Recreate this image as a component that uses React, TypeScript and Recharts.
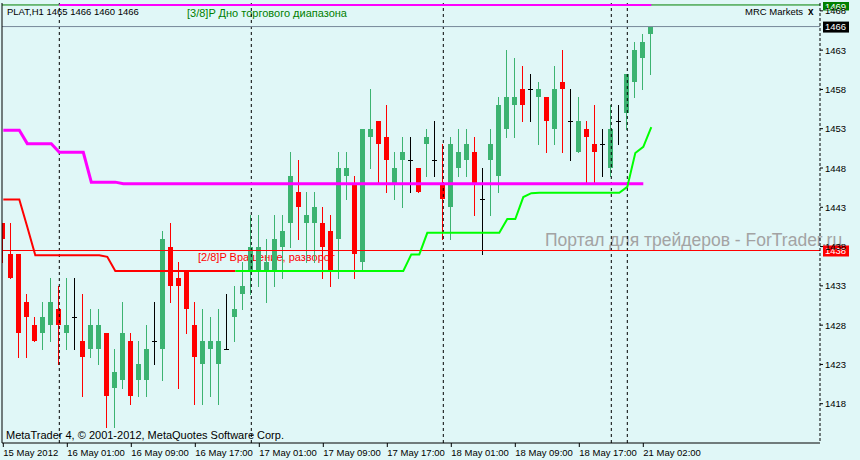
import React from 'react';
import { ComposedChart, Bar, Line, XAxis, YAxis, ReferenceLine } from 'recharts';

const BG = '#E0F7F7';
const FONT = "'Liberation Sans', Arial, sans-serif";

const opens = [
  1441, 1437, 1437, 1431, 1428, 1427, 1428, 1430, 1427, 1429,
  1426, 1425, 1425, 1427, 1420, 1421, 1426, 1421, 1421, 1426,
  1425, 1438, 1434, 1435, 1428, 1423, 1425, 1423, 1425, 1429,
  1432, 1435, 1435, 1435, 1435, 1438, 1441, 1445, 1441, 1441,
  1441, 1440, 1439, 1447, 1446, 1436, 1452, 1454, 1452, 1446,
  1449, 1449, 1448, 1451, 1449, 1446, 1443, 1448, 1449, 1450,
  1444, 1449, 1447, 1453, 1456, 1458, 1458, 1457, 1457, 1453,
  1459, 1454, 1450, 1453, 1451, 1451, 1448, 1454, 1455, 1459,
  1462, 1465,
];
const highs = [
  1441, 1441, 1437, 1432, 1429, 1431, 1434, 1433, 1434, 1434,
  1432, 1430, 1430, 1427, 1425, 1431, 1427, 1426, 1428, 1431,
  1440, 1441, 1436, 1435, 1431, 1430, 1429, 1430, 1432, 1433,
  1436, 1442, 1442, 1439, 1442, 1442, 1450, 1449, 1445, 1445,
  1443, 1442, 1450, 1450, 1447, 1453, 1458, 1454, 1456, 1450,
  1452, 1452, 1448, 1453, 1454, 1451, 1452, 1453, 1453, 1452,
  1448, 1453, 1457, 1463, 1462, 1461, 1460, 1459, 1457, 1461,
  1463, 1458, 1457, 1454, 1456, 1453, 1456, 1456, 1460, 1464,
  1465, 1466,
];
const lows = [
  1436, 1434, 1424, 1424, 1426, 1425, 1426, 1423, 1425, 1425,
  1419, 1424, 1423, 1415, 1415, 1420, 1418, 1419, 1419, 1423,
  1421, 1431, 1420, 1427, 1418, 1418, 1419, 1418, 1425, 1426,
  1430, 1432, 1433, 1431, 1433, 1434, 1438, 1439, 1436, 1436,
  1434, 1433, 1434, 1444, 1434, 1435, 1448, 1446, 1445, 1444,
  1443, 1445, 1445, 1447, 1447, 1439, 1439, 1447, 1447, 1442,
  1437, 1442, 1445, 1452, 1452, 1454, 1454, 1451, 1450, 1451,
  1450, 1449, 1450, 1446, 1446, 1447, 1447, 1451, 1453, 1457,
  1458, 1460,
];
const closes = [
  1439, 1434, 1427, 1429, 1426, 1429, 1431, 1428, 1428, 1429,
  1424, 1428, 1428, 1419, 1422, 1427, 1419, 1423, 1425, 1426,
  1439, 1433, 1433, 1430, 1424, 1426, 1426, 1426, 1425, 1430,
  1433, 1438, 1438, 1436, 1439, 1440, 1447, 1443, 1442, 1443,
  1438, 1435, 1448, 1448, 1437, 1453, 1453, 1451, 1449, 1448,
  1450, 1449, 1445, 1452, 1449, 1444, 1451, 1450, 1451, 1446,
  1444, 1451, 1456, 1457, 1457, 1456, 1458, 1458, 1454, 1458,
  1458, 1454, 1454, 1452, 1450, 1451, 1453, 1454, 1460, 1463,
  1464, 1466,
];

// magenta stepped channel line
const magentaLine = [
  1452.8, 1452.8, 1452.8, 1451.1, 1451.1, 1451.1, 1451.1, 1450.0, 1450.0, 1450.0,
  1450.0, 1446.2, 1446.2, 1446.2, 1446.2, 1446.0, 1446.0, 1446.0, 1446.0, 1446.0,
  1446.0, 1446.0, 1446.0, 1446.0, 1446.0, 1446.0, 1446.0, 1446.0, 1446.0, 1446.0,
  1446.0, 1446.0, 1446.0, 1446.0, 1446.0, 1446.0, 1446.0, 1446.0, 1446.0, 1446.0,
  1446.0, 1446.0, 1446.0, 1446.0, 1446.0, 1446.0, 1446.0, 1446.0, 1446.0, 1446.0,
  1446.0, 1446.0, 1446.0, 1446.0, 1446.0, 1446.0, 1446.0, 1446.0, 1446.0, 1446.0,
  1446.0, 1446.0, 1446.0, 1446.0, 1446.0, 1446.0, 1446.0, 1446.0, 1446.0, 1446.0,
  1446.0, 1446.0, 1446.0, 1446.0, 1446.0, 1446.0, 1446.0, 1446.0, 1446.0, 1446.0,
  1446.0, null,
];
// red stepped channel line (falling part)
const redLine = [
  1444.0, 1444.0, 1444.0, 1440.5, 1436.9, 1436.9, 1436.9, 1436.9, 1436.9, 1436.9,
  1436.9, 1436.9, 1436.9, 1436.7, 1434.9, 1434.9, 1434.9, 1434.9, 1434.9, 1434.9,
  1434.9, 1434.9, 1434.9, 1434.9, 1434.9, 1434.9, 1434.9, 1434.9, 1434.9, 1434.9,
  null, null, null, null, null, null, null, null, null, null,
  null, null, null, null, null, null, null, null, null, null,
  null, null, null, null, null, null, null, null, null, null,
  null, null, null, null, null, null, null, null, null, null,
  null, null, null, null, null, null, null, null, null, null,
  null, null,
];
// lime stepped channel line (rising part)
const limeLine = [
  null, null, null, null, null, null, null, null, null, null,
  null, null, null, null, null, null, null, null, null, null,
  null, null, null, null, null, null, null, null, null, 1434.9,
  1434.9, 1434.9, 1434.9, 1434.9, 1434.9, 1434.9, 1434.9, 1434.9, 1434.9, 1434.9,
  1434.9, 1434.9, 1434.9, 1434.9, 1434.9, 1434.9, 1434.9, 1434.9, 1434.9, 1434.9,
  1434.9, 1437.0, 1437.0, 1439.75, 1439.75, 1439.75, 1439.75, 1439.75, 1439.75, 1439.75,
  1439.75, 1439.75, 1439.75, 1441.5, 1441.5, 1444.3, 1444.8, 1444.85, 1444.85, 1444.85,
  1444.85, 1444.85, 1444.85, 1444.85, 1444.85, 1444.85, 1444.85, 1444.85, 1445.6, 1449.9,
  1450.7, 1453.2,
];

const xTickIdx = [0, 8, 16, 24, 32, 40, 48, 56, 64, 72, 80];
const xTickLabels = [
  '15 May 2012', '16 May 01:00', '16 May 09:00', '16 May 17:00', '17 May 01:00',
  '17 May 09:00', '17 May 17:00', '18 May 01:00', '18 May 09:00', '18 May 17:00', '21 May 02:00',
];
const yTicks = [1418, 1423, 1428, 1433, 1438, 1443, 1448, 1453, 1458, 1463, 1468];
const separators = [7, 31, 55, 76, 78];

const level38 = 1468.75;
const level28 = 1437.5;
const lastPrice = 1466;
const topBandStart = 7;
const topBandEnd = 81;

const data = opens.map((o, i) => ({
  i,
  open: o,
  high: highs[i],
  low: lows[i],
  close: closes[i],
  range: [lows[i], highs[i]],
  mag: magentaLine[i],
  red: redLine[i],
  lime: limeLine[i],
}));

const Candle = (props: any) => {
  const { x, y, width, height, payload } = props;
  if (x == null || y == null || !payload) return null;
  const { open, close, high, low } = payload;
  const top = Math.min(y, y + height);
  const bot = Math.max(y, y + height);
  const span = high - low;
  const yOf = (v: number) => (span === 0 ? top : top + ((high - v) / span) * (bot - top));
  const cx = Math.floor(x + width / 2) + 0.5;
  const color = close > open ? '#3CB371' : close < open ? '#FF0000' : '#000000';
  const bTop = Math.round(yOf(Math.max(open, close)));
  const bBot = Math.round(yOf(Math.min(open, close)));
  return (
    <g shapeRendering="crispEdges">
      <line x1={cx} x2={cx} y1={Math.round(top)} y2={Math.round(bot) + 1} stroke={color} strokeWidth={1} />
      {close === open ? (
        <line x1={cx - 2.5} x2={cx + 2.5} y1={bTop + 0.5} y2={bTop + 0.5} stroke={color} strokeWidth={1} />
      ) : (
        <rect x={cx - 2.5} y={bTop} width={5} height={Math.max(1, bBot - bTop)} fill={color} />
      )}
    </g>
  );
};

const XTick = (props: any) => {
  const { x, y, payload } = props;
  const k = xTickIdx.indexOf(payload.value);
  return (
    <text x={x} y={y + 7} fontSize={9.5} fontFamily={FONT} fill="#000">
      {k >= 0 ? xTickLabels[k] : ''}
    </text>
  );
};

const YTick = (props: any) => {
  const { x, y, payload } = props;
  return (
    <text x={x} y={y + 3.5} fontSize={9.5} fontFamily={FONT} fill="#000">
      {payload.value}
    </text>
  );
};

const PriceBox = (props: any) => {
  const { viewBox, text, bg, top } = props;
  if (!viewBox) return null;
  const bx = viewBox.x + viewBox.width + 3;
  const by = viewBox.y;
  if (top) {
    return (
      <g>
        <defs>
          <clipPath id="topBoxClip">
            <rect x={bx} y={2} width={26} height={9} />
          </clipPath>
        </defs>
        <rect x={bx} y={2} width={26} height={8.5} fill={bg} />
        <text x={bx + 2} y={by + 4.6} fontSize={9.5} fontFamily={FONT} fill="#fff" clipPath="url(#topBoxClip)">
          {text}
        </text>
      </g>
    );
  }
  return (
    <g>
      <rect x={bx} y={by - 5} width={26} height={11} fill={bg} />
      <text x={bx + 2} y={by + 3.8} fontSize={9.5} fontFamily={FONT} fill="#fff">
        {text}
      </text>
    </g>
  );
};

export default function App() {
  return (
    <div style={{ position: 'absolute', left: 0, top: 0, width: 860, height: 460, background: BG, overflow: 'hidden' }}>
      <svg width={860} height={460} style={{ position: 'absolute', left: 0, top: 0 }}>
        <text x={545} y={246} fontSize={17.5} fontFamily={FONT} fill="#A3A3A3">
          Портал для трейдеров - ForTrader.ru
        </text>
        <text x={7} y={15} fontSize={9.5} fontFamily={FONT} fill="#000">
          PLAT,H1 1465 1466 1460 1466
        </text>
        <text x={745} y={15} fontSize={9.5} fontFamily={FONT} fill="#000">
          MRC Markets
        </text>
        <text x={808} y={15} fontSize={10} fontWeight="bold" fontFamily={FONT} fill="#000">
          x
        </text>
        <text x={187} y={17} fontSize={11} fontFamily={FONT} fill="#008000">
          [3/8]P Дно торгового диапазона
        </text>
        <text x={198} y={261} fontSize={11} fontFamily={FONT} fill="#FF0000">
          [2/8]P Вращение, разворот
        </text>
        <text x={6} y={439} fontSize={11} fontFamily={FONT} fill="#000">
          MetaTrader 4, © 2001-2012, MetaQuotes Software Corp.
        </text>
      </svg>
      <div style={{ position: 'absolute', left: 0, top: 0 }}>
        <ComposedChart width={860} height={460} data={data} margin={{ top: 3, right: 0, bottom: 0, left: 0 }}>
          <XAxis
            dataKey="i"
            type="number"
            domain={[-0.1625, 102.0875]}
            allowDataOverflow
            ticks={xTickIdx}
            interval={0}
            tickSize={4}
            height={17}
            axisLine={{ stroke: '#000' }}
            tickLine={{ stroke: '#000' }}
            tick={<XTick />}
          />
          <YAxis
            orientation="right"
            type="number"
            domain={[1413, 1469]}
            allowDataOverflow
            ticks={yTicks}
            interval={0}
            width={40}
            tickSize={3}
            axisLine={{ stroke: '#000', strokeDasharray: '3 2' }}
            tickLine={{ stroke: '#000' }}
            tick={<YTick />}
          />
          <YAxis
            yAxisId="left"
            orientation="left"
            type="number"
            domain={[1413, 1469]}
            width={2}
            tick={false}
            tickLine={false}
            axisLine={{ stroke: '#000' }}
          />
          {separators.map((s) => (
            <ReferenceLine key={'sep' + s} x={s} stroke="#000" strokeDasharray="3 3" />
          ))}
          <ReferenceLine y={lastPrice} stroke="#778899" label={<PriceBox text="1466" bg="#000000" />} />
          <ReferenceLine y={level28} stroke="#FF0000" label={<PriceBox text="1438" bg="#FF0000" />} />
          <ReferenceLine y={level38} stroke="#008000" label={<PriceBox text="1469" bg="#008000" top />} />
          <ReferenceLine
            segment={[
              { x: topBandStart, y: level38 },
              { x: topBandEnd, y: level38 },
            ]}
            stroke="#FF00FF"
            strokeWidth={2}
          />
          <Bar dataKey="range" barSize={5} isAnimationActive={false} shape={(p: any) => <Candle {...p} />} />
          <Line dataKey="mag" stroke="#FF00FF" strokeWidth={3} dot={false} activeDot={false} isAnimationActive={false} connectNulls={false} />
          <Line dataKey="red" stroke="#FF0000" strokeWidth={2} dot={false} activeDot={false} isAnimationActive={false} connectNulls={false} />
          <Line dataKey="lime" stroke="#00FF00" strokeWidth={2} dot={false} activeDot={false} isAnimationActive={false} connectNulls={false} />
        </ComposedChart>
      </div>
    </div>
  );
}
